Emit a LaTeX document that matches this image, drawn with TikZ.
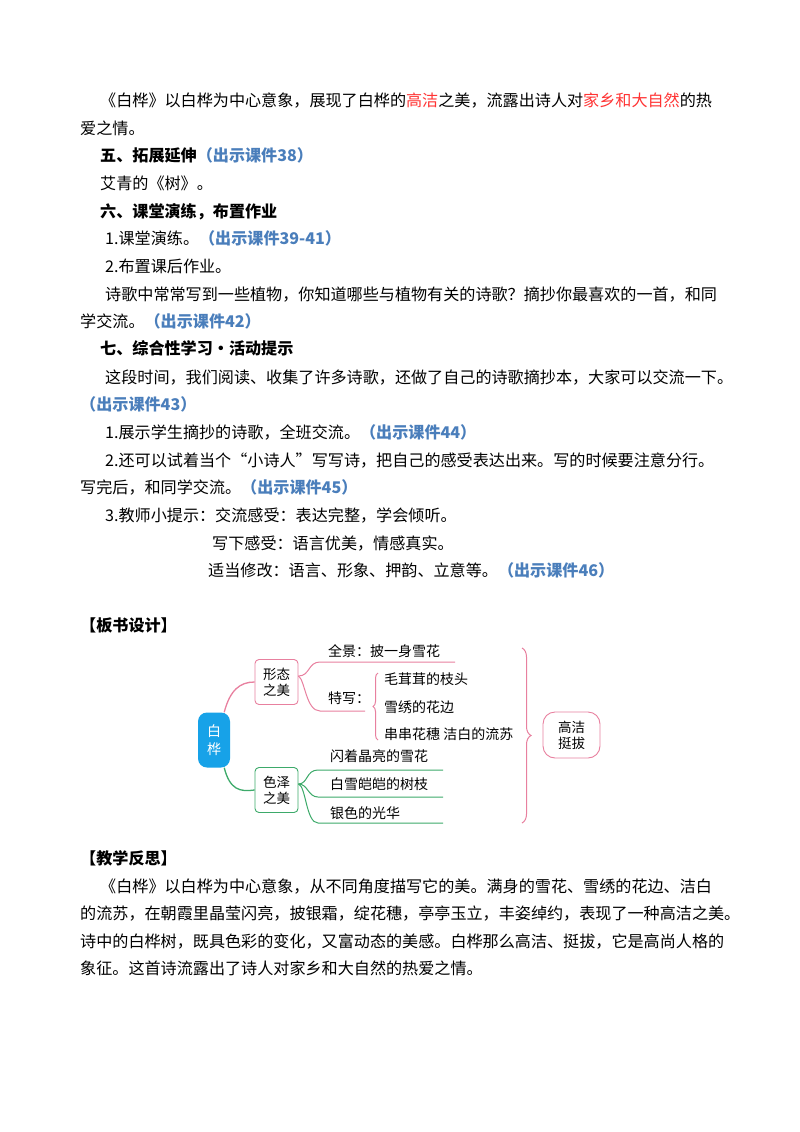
\documentclass[tikz,border=0pt]{standalone}
\usepackage{fontspec}
\setmainfont{Noto Sans CJK SC}
\usetikzlibrary{decorations.pathreplacing}
\definecolor{lb}{HTML}{4A7EBB}
\definecolor{rd}{HTML}{FF3333}
\definecolor{pk}{HTML}{E8809F}
\definecolor{gn}{HTML}{3DAA6A}
\definecolor{bl}{HTML}{17A2E8}
\begin{document}
\begin{tikzpicture}[x=1pt,y=-1pt,
 tx/.style={anchor=base west,inner sep=0pt,font=\fontsize{16.1}{18}\selectfont},
 hd/.style={tx,font=\fontsize{16.1}{18}\selectfont\bfseries},
 mm/.style={anchor=base west,inner sep=0pt,font=\fontsize{14}{15}\selectfont},
 bx/.style={draw,rounded corners=4pt,line width=0.9pt,inner sep=3pt,align=center,font=\fontsize{13.5}{16}\selectfont}]
\useasboundingbox (0,0) rectangle (800,1132);
\fill[white] (0,0) rectangle (800,1132);
\node[tx] (l1) at (100,106) {《白桦》以白桦为中心意象，展现了白桦的\textcolor{rd}{高洁}之美，流露出诗人对\textcolor{rd}{家乡和大自然}的热};
\node[tx] (l2) at (80,134) {爱之情。};
\node[hd] (l3) at (100,161) {五、拓展延伸\textcolor{lb}{（出示课件38）}};
\node[tx] (l4) at (100,189) {艾青的《树》。};
\node[hd] (l5) at (100,217) {六、课堂演练，布置作业};
\node[tx] (l6) at (105,244) {1.课堂演练。\textcolor{lb}{\bfseries（出示课件39-41）}};
\node[tx] (l7) at (105,272) {2.布置课后作业。};
\node[tx] (l8) at (105,300) {诗歌中常常写到一些植物，你知道哪些与植物有关的诗歌？摘抄你最喜欢的一首，和同};
\node[tx] (l9) at (80,327) {学交流。\textcolor{lb}{\bfseries（出示课件42）}};
\node[hd] (l10) at (100,354) {七、综合性学习·活动提示};
\node[tx] (l11) at (105,383) {这段时间，我们阅读、收集了许多诗歌，还做了自己的诗歌摘抄本，大家可以交流一下。};
\node[tx] (l12) at (80,410) {\textcolor{lb}{\bfseries（出示课件43）}};
\node[tx] (l13) at (105,438) {1.展示学生摘抄的诗歌，全班交流。\textcolor{lb}{\bfseries（出示课件44）}};
\node[tx] (l14) at (105,466) {2.还可以试着当个“小诗人”写写诗，把自己的感受表达出来。写的时候要注意分行。};
\node[tx] (l15) at (80,493) {写完后，和同学交流。\textcolor{lb}{\bfseries（出示课件45）}};
\node[tx] (l16) at (105,521) {3.教师小提示：交流感受：表达完整，学会倾听。};
\node[tx] (l17) at (212,549) {写下感受：语言优美，情感真实。};
\node[tx] (l18) at (208,576) {适当修改：语言、形象、押韵、立意等。\textcolor{lb}{\bfseries（出示课件46）}};
\node[hd] (l19) at (80,631) {【板书设计】};
% mind map
\node[fill=bl,rounded corners=9pt,minimum width=32pt,minimum height=55pt,text=white,align=center,font=\fontsize{14}{18}\selectfont] (bh) at (214,740) {白\\桦};
\node[bx,draw=pk,minimum width=43pt,minimum height=45pt] (xt) at (276.5,682) {形态\\之美};
\node[bx,draw=gn,minimum width=43pt,minimum height=45pt] (sz) at (276.5,790) {色泽\\之美};
\node[bx,draw=pk,rounded corners=12pt,minimum width=57pt,minimum height=46pt] (gj) at (571.5,735) {高洁\\挺拔};
\coordinate (a1) at (320,662); \coordinate (a2) at (455,662);
\coordinate (b1) at (320,711); \coordinate (b2) at (365,711);
\coordinate (g1) at (318,770); \coordinate (g2) at (443,770);
\coordinate (h1) at (318,797); \coordinate (h2) at (443,797);
\coordinate (k1) at (318,823); \coordinate (k2) at (443,823);
\begin{scope}[line width=1.3pt]
\draw[pk] (bh.north east) ++(-6,0) .. controls (230,690) and (240,682) .. (xt.west);
\draw[gn] (bh.south east) ++(-6,0) .. controls (230,790) and (240,792) .. (sz.west);
\end{scope}
\begin{scope}[line width=1pt]
\draw[pk] (xt.east) ++(0,-6) .. controls (310,676) and (308,662) .. (a1) -- (a2);
\draw[pk] (xt.east) ++(0,-6) .. controls (305,680) and (306,711) .. (b1) -- (b2);
\draw[gn] (sz.east) ++(0,-6) .. controls (308,784) and (306,770) .. (g1) -- (g2);
\draw[gn] (sz.east) ++(0,-6) .. controls (308,784) and (308,797) .. (h1) -- (h2);
\draw[gn] (sz.east) ++(0,-6) .. controls (306,786) and (306,823) .. (k1) -- (k2);
\draw[pk,decorate,decoration={brace,amplitude=5pt,mirror}] (378,673) -- (378,740);
\draw[pk,decorate,decoration={brace,amplitude=9pt}] (522,648) -- (522,823);
\end{scope}
\node[mm] (m1) at (328,656) {全景：披一身雪花};
\node[mm] (m2) at (328,703) {特写：};
\node[mm] (m3) at (384,684) {毛茸茸的枝头};
\node[mm] (m4) at (384,712) {雪绣的花边};
\node[mm] (m5) at (384,739) {串串花穗\ 洁白的流苏};
\node[mm] (m6) at (330,761) {闪着晶亮的雪花};
\node[mm] (m7) at (330,789) {白雪皑皑的树枝};
\node[mm] (m8) at (330,818) {银色的光华};
% reflection
\node[hd] (r0) at (80,864) {【教学反思】};
\node[tx] (r1) at (100,892) {《白桦》以白桦为中心意象，从不同角度描写它的美。满身的雪花、雪绣的花边、洁白};
\node[tx] (r2) at (80,919) {的流苏，在朝霞里晶莹闪亮，披银霜，绽花穗，亭亭玉立，丰姿绰约，表现了一种高洁之美。};
\node[tx] (r3) at (80,947) {诗中的白桦树，既具色彩的变化，又富动态的美感。白桦那么高洁、挺拔，它是高尚人格的};
\node[tx] (r4) at (80,974) {象征。这首诗流露出了诗人对家乡和大自然的热爱之情。};
\end{tikzpicture}
\end{document}
